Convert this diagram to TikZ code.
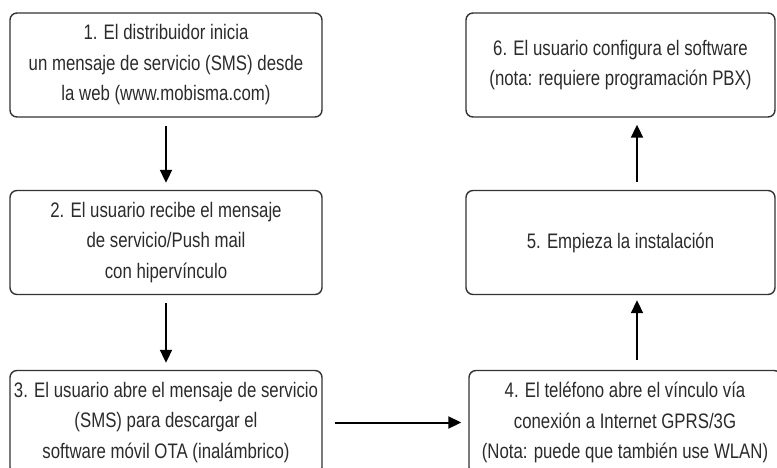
\documentclass[tikz,border=0pt]{standalone}
\usepackage{fontspec}
\newfontfamily\narrowfont{Liberation Sans}[FakeStretch=0.80]
\usepackage{tikz}
\usetikzlibrary{positioning, calc, arrows.meta}
\definecolor{boxgray}{HTML}{333333}
\definecolor{txtgray}{HTML}{2B2B2B}

\begin{document}
\begin{tikzpicture}[x=1pt, y=-1pt,
		stepbox/.style={draw=boxgray, line width=1.4pt, rounded corners=7pt, minimum width=312pt, minimum height=104pt, inner sep=0pt, align=center, text=txtgray, font=\narrowfont\fontsize{21}{30.5}\selectfont},
		flow/.style={line width=2pt, -{Triangle[width=12pt,length=13pt]}, shorten <=8pt, shorten >=7pt}]
	\useasboundingbox[clip] (0,0) rectangle (777,468);
	% left column
	\node[stepbox] (s1) at (166,65) {1. El distribuidor inicia\\un mensaje de servicio (SMS) desde\\la web (www.mobisma.com)};
	\node[stepbox] (s2) at (166,242.5) {2. El usuario recibe el mensaje\\de servicio/Push mail\\con hiperv\'inculo};
	\node[stepbox] (s3) at (166,422.5) {3. El usuario abre el mensaje de servicio\\(SMS) para descargar el\\software m\'ovil OTA (inal\'ambrico)};
	% right column
	\node[stepbox] (s4) at (625,422.5) {4. El tel\'efono abre el v\'inculo v\'ia\\conexi\'on a Internet GPRS/3G\\(Nota: puede que tambi\'en use WLAN)};
	\node[stepbox, minimum width=309pt] (s5) at (620.5,242.5) {5. Empieza la instalaci\'on};
	\node[stepbox, minimum width=309pt] (s6) at (620.5,65) {6. El usuario configura el software\\(nota: requiere programaci\'on PBX)};
	\coordinate (rcol) at (637,0);

	\draw[flow] (s1) -- (s2);
	\draw[flow] (s2) -- (s3);
	\draw[flow, shorten <=12pt] (s3) -- (s4.west |- s3);
	\draw[flow, shorten <=10pt, shorten >=5pt] (s4.north -| rcol) -- (s5.south -| rcol);
	\draw[flow] (s5.north -| rcol) -- (s6.south -| rcol);
\end{tikzpicture}
\end{document}
